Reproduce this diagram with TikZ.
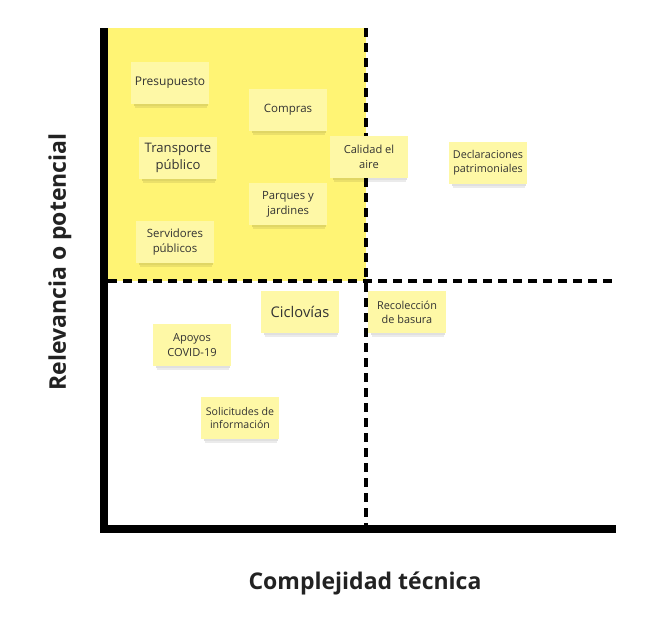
\documentclass[tikz,border=0pt]{standalone}
\usepackage{fontspec}
\setmainfont{Open Sans}
\begin{document}
\begin{tikzpicture}[x=1pt,y=-1pt,
  note/.style={fill=noteyellow, minimum width=78pt, minimum height=42pt,
    align=center, text=notetext, inner sep=2pt},
  axisbar/.style={line width=8pt},
  divider/.style={line width=3.2pt, dash pattern=on 9pt off 6pt},
  axislabel/.style={font=\fontsize{23}{27}\bfseries\selectfont, text=axistext}
]
\definecolor{zoneyellow}{HTML}{FFF474}
\definecolor{noteyellow}{HTML}{FEF8A6}
\definecolor{notetext}{HTML}{333333}
\definecolor{axistext}{HTML}{222222}
\useasboundingbox (0,0) rectangle (649,624);

% high-relevance, low-complexity zone
\fill[zoneyellow] (108,28) rectangle (366,281);

% quadrant dividers
\coordinate (vtop) at (366,28);
\coordinate (vbot) at (366,525);
\coordinate (hleft) at (108,281);
\coordinate (hright) at (616,281);
\draw[divider] (vtop) -- (vbot);
\draw[divider] (hleft) -- (hright);

% axes
\coordinate (origin) at (104,529);
\coordinate (ytop) at (104,28);
\coordinate (xend) at (616,529);
\draw[axisbar] (ytop) -- (origin) -- (xend);

% sticky note: #1 name, #2/#3 centre, #4 font size, #5 text
\newcommand{\sticky}[5]{%
  \fill[black,opacity=0.12] (#2-36,#3+19) rectangle (#2+38,#3+23);
  \fill[black,opacity=0.08] (#2-35,#3+23) rectangle (#2+37,#3+25);
  \node[note, font=\fontsize{#4pt}{\dimexpr #4pt*13/10\relax}\selectfont] (#1) at (#2,#3) {#5};}

\sticky{presupuesto}{170}{83}{12}{Presupuesto}
\sticky{compras}{288}{110}{11.5}{Compras}
\sticky{transporte}{178}{158}{13.1}{Transporte\\público}
\sticky{calidad}{369}{157}{11.1}{Calidad el\\aire}
\sticky{declaraciones}{488}{163}{10.8}{Declaraciones\\patrimoniales}
\sticky{parques}{288}{204}{11.3}{Parques y\\jardines}
\sticky{servidores}{175}{242}{11.4}{Servidores\\públicos}
\sticky{ciclovias}{300}{312}{14.7}{Ciclovías}
\sticky{recoleccion}{407}{312}{10.9}{Recolección\\de basura}
\sticky{apoyos}{192}{345}{11.1}{Apoyos\\COVID-19}
\sticky{solicitudes}{240}{418}{10.6}{Solicitudes de\\información}

% axis titles
\node[axislabel, rotate=90] (ylabel) at (60,262) {Relevancia o potencial};
\node[axislabel] (xlabel) at (365,583) {Complejidad técnica};
\end{tikzpicture}
\end{document}
